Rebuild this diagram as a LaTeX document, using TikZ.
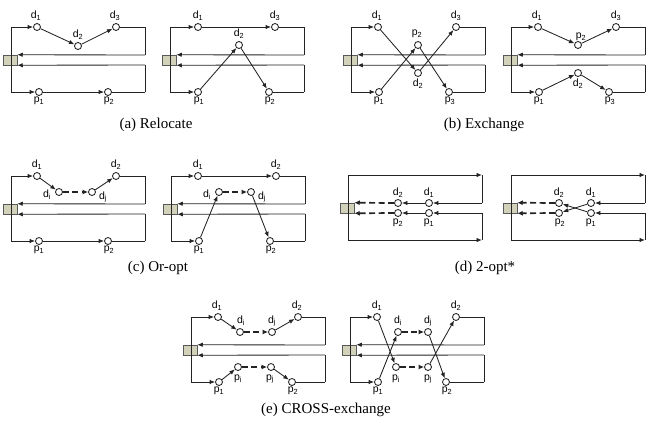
\documentclass[tikz,border=0pt]{standalone}
\usepackage{fontspec}
\setmainfont{Liberation Serif}
\newfontfamily\labfont{Liberation Sans}
\usetikzlibrary{arrows.meta}
\definecolor{depotc}{RGB}{210,210,186}
\definecolor{linec}{RGB}{35,35,35}
\newcommand\lsub[2]{#1\textsubscript{#2}}
\tikzset{
  rt/.style={draw=linec, line width=0.85pt},
  ar/.style={rt, -{Latex[length=5.5pt,width=4.4pt]}},
  dsh/.style={draw=linec, line width=1.7pt, dash pattern=on 6pt off 3.5pt, -{Latex[length=5.5pt,width=5pt]}},
  cust/.style={circle, draw=linec, fill=white, line width=0.85pt, minimum size=7pt, inner sep=0pt},
  depotbox/.style={draw=black!65, fill=depotc, line width=0.5pt, minimum width=14pt, minimum height=10pt, inner sep=0pt},
  lbl/.style={font=\labfont\fontsize{10.5}{11}\selectfont, inner sep=0pt},
  captxt/.style={font=\fontsize{15}{17}\selectfont, inner sep=0pt}
}
% frame: depot, corner coordinates, left vertical line
\newcommand\pframe[1]{%
  \node[depotbox] (#1dep) at (-1,33) {};
  \coordinate (#1TL) at (0,0);
  \coordinate (#1TR) at (134,0);
  \coordinate (#1BL) at (0,65);
  \coordinate (#1BR) at (134,65);
  \coordinate (#1RU) at (134,28);
  \coordinate (#1RW) at (134,38);
  \draw[rt] (#1TL) -- (#1BL);
}
\newcommand\preturn[1]{%
  \draw[rt] (#1TR) -- (#1RU);
  \draw[ar] (#1RU) -- (#1dep.north east);
  \draw[rt] (#1BR) -- (#1RW);
  \draw[ar] (#1RW) -- (#1dep.south east);
}
\begin{document}
\begin{tikzpicture}[x=1pt,y=-1pt]
\useasboundingbox (0,0) rectangle (649,426);

% ---------------- (a) left
\begin{scope}[shift={(11,27)}]
  \pframe{A}
  \node[cust] (Ad1) at (26,0) {};
  \node[cust] (Ad2) at (67,19) {};
  \node[cust] (Ad3) at (105,0) {};
  \node[cust] (Ap1) at (28,65) {};
  \node[cust] (Ap2) at (97,65) {};
  \draw[ar] (ATL) -- (Ad1);
  \draw[ar] (Ad1) -- (Ad2);
  \draw[ar] (Ad2) -- (Ad3);
  \draw[rt] (Ad3) -- (ATR);
  \draw[ar] (ABL) -- (Ap1);
  \draw[ar] (Ap1) -- (Ap2);
  \draw[rt] (Ap2) -- (ABR);
  \preturn{A}
  \node[lbl] (Ald1) at (25,-11) {\lsub{d}{1}};
  \node[lbl] (Ald2) at (67,8) {\lsub{d}{2}};
  \node[lbl] (Ald3) at (104,-11) {\lsub{d}{3}};
  \node[lbl] (Alp1) at (28,74) {\lsub{p}{1}};
  \node[lbl] (Alp2) at (98,74) {\lsub{p}{2}};
\end{scope}

% ---------------- (a) right
\begin{scope}[shift={(170,27)}]
  \pframe{B}
  \node[cust] (Bd1) at (28,0) {};
  \node[cust] (Bd3) at (105,0) {};
  \node[cust] (Bd2) at (69,18) {};
  \node[cust] (Bp1) at (28,65) {};
  \node[cust] (Bp2) at (99,65) {};
  \draw[ar] (BTL) -- (Bd1);
  \draw[ar] (Bd1) -- (Bd3);
  \draw[rt] (Bd3) -- (BTR);
  \draw[ar] (BBL) -- (Bp1);
  \draw[ar] (Bp1) -- (Bd2);
  \draw[ar] (Bd2) -- (Bp2);
  \draw[rt] (Bp2) -- (BBR);
  \preturn{B}
  \node[lbl] (Bld1) at (28,-11) {\lsub{d}{1}};
  \node[lbl] (Bld3) at (105,-11) {\lsub{d}{3}};
  \node[lbl] (Bld2) at (69,7) {\lsub{d}{2}};
  \node[lbl] (Blp1) at (29,74) {\lsub{p}{1}};
  \node[lbl] (Blp2) at (100,74) {\lsub{p}{2}};
\end{scope}

% ---------------- (b) left
\begin{scope}[shift={(351,27)}]
  \pframe{C}
  \node[cust] (Cd1) at (27,0) {};
  \node[cust] (Cd3) at (105,0) {};
  \node[cust] (Cp2) at (67,18) {};
  \node[cust] (Cd2) at (67,46) {};
  \node[cust] (Cp1) at (28,65) {};
  \node[cust] (Cp3) at (98,65) {};
  \draw[ar] (CTL) -- (Cd1);
  \draw[ar] (Cd1) -- (Cd2);
  \draw[ar] (Cd2) -- (Cd3);
  \draw[rt] (Cd3) -- (CTR);
  \draw[ar] (CBL) -- (Cp1);
  \draw[ar] (Cp1) -- (Cp2);
  \draw[ar] (Cp2) -- (Cp3);
  \draw[rt] (Cp3) -- (CBR);
  \preturn{C}
  \node[lbl] (Cld1) at (26,-11) {\lsub{d}{1}};
  \node[lbl] (Cld3) at (105,-11) {\lsub{d}{3}};
  \node[lbl] (Clp2) at (66,7) {\lsub{p}{2}};
  \node[lbl] (Cld2) at (67,57) {\lsub{d}{2}};
  \node[lbl] (Clp1) at (28,74) {\lsub{p}{1}};
  \node[lbl] (Clp3) at (99,74) {\lsub{p}{3}};
\end{scope}

% ---------------- (b) right
\begin{scope}[shift={(511,27)}]
  \pframe{D}
  \node[cust] (Dd1) at (27,0) {};
  \node[cust] (Dp2) at (67,18) {};
  \node[cust] (Dd3) at (105,0) {};
  \node[cust] (Dp1) at (28,65) {};
  \node[cust] (Dd2) at (67,46) {};
  \node[cust] (Dp3) at (98,65) {};
  \draw[ar] (DTL) -- (Dd1);
  \draw[ar] (Dd1) -- (Dp2);
  \draw[ar] (Dp2) -- (Dd3);
  \draw[rt] (Dd3) -- (DTR);
  \draw[ar] (DBL) -- (Dp1);
  \draw[ar] (Dp1) -- (Dd2);
  \draw[ar] (Dd2) -- (Dp3);
  \draw[rt] (Dp3) -- (DBR);
  \preturn{D}
  \node[lbl] (Dld1) at (26,-11) {\lsub{d}{1}};
  \node[lbl] (Dlp2) at (70,10) {\lsub{p}{2}};
  \node[lbl] (Dld3) at (105,-11) {\lsub{d}{3}};
  \node[lbl] (Dlp1) at (28,74) {\lsub{p}{1}};
  \node[lbl] (Dld2) at (67,57) {\lsub{d}{2}};
  \node[lbl] (Dlp3) at (99,74) {\lsub{p}{3}};
\end{scope}

% ---------------- (c) left
\begin{scope}[shift={(11,176)}]
  \pframe{E}
  \node[cust] (Ed1) at (26,0) {};
  \node[cust] (Edi) at (48,16) {};
  \node[cust] (Edj) at (81,16) {};
  \node[cust] (Ed2) at (105,0) {};
  \node[cust] (Ep1) at (28,65) {};
  \node[cust] (Ep2) at (97,65) {};
  \draw[ar] (ETL) -- (Ed1);
  \draw[ar] (Ed1) -- (Edi);
  \draw[dsh] (Edi) -- (Edj);
  \draw[ar] (Edj) -- (Ed2);
  \draw[rt] (Ed2) -- (ETR);
  \draw[ar] (EBL) -- (Ep1);
  \draw[ar] (Ep1) -- (Ep2);
  \draw[rt] (Ep2) -- (EBR);
  \preturn{E}
  \node[lbl] (Eld1) at (26,-11) {\lsub{d}{1}};
  \node[lbl] (Eldi) at (36,19) {\lsub{d}{i}};
  \node[lbl] (Eldj) at (92,21) {\lsub{d}{j}};
  \node[lbl] (Eld2) at (105,-11) {\lsub{d}{2}};
  \node[lbl] (Elp1) at (28,74) {\lsub{p}{1}};
  \node[lbl] (Elp2) at (98,74) {\lsub{p}{2}};
\end{scope}

% ---------------- (c) right
\begin{scope}[shift={(171,176)}]
  \pframe{F}
  \node[cust] (Fd1) at (27,0) {};
  \node[cust] (Fd2) at (105,0) {};
  \node[cust] (Fdi) at (48,16) {};
  \node[cust] (Fdj) at (80,16) {};
  \node[cust] (Fp1) at (28,65) {};
  \node[cust] (Fp2) at (99,65) {};
  \draw[ar] (FTL) -- (Fd1);
  \draw[ar] (Fd1) -- (Fd2);
  \draw[rt] (Fd2) -- (FTR);
  \draw[ar] (FBL) -- (Fp1);
  \draw[ar] (Fp1) -- (Fdi);
  \draw[dsh] (Fdi) -- (Fdj);
  \draw[ar] (Fdj) -- (Fp2);
  \draw[rt] (Fp2) -- (FBR);
  \preturn{F}
  \node[lbl] (Fld1) at (27,-11) {\lsub{d}{1}};
  \node[lbl] (Fld2) at (105,-11) {\lsub{d}{2}};
  \node[lbl] (Fldi) at (36,19) {\lsub{d}{i}};
  \node[lbl] (Fldj) at (91,21) {\lsub{d}{j}};
  \node[lbl] (Flp1) at (28,74) {\lsub{p}{1}};
  \node[lbl] (Flp2) at (100,74) {\lsub{p}{2}};
\end{scope}

% ---------------- (d) left
\begin{scope}[shift={(348,175)}]
  \pframe{G}
  \node[cust] (Gd2) at (50,28) {};
  \node[cust] (Gd1) at (81,28) {};
  \node[cust] (Gp2) at (50,38) {};
  \node[cust] (Gp1) at (81,38) {};
  \draw[ar] (GTL) -- (GTR);
  \draw[rt] (GTR) -- (GRU);
  \draw[ar] (GRU) -- (Gd1);
  \draw[ar] (Gd1) -- (Gd2);
  \draw[dsh] (Gd2) -- (Gdep.north east);
  \draw[ar] (GBL) -- (GBR);
  \draw[rt] (GBR) -- (GRW);
  \draw[ar] (GRW) -- (Gp1);
  \draw[ar] (Gp1) -- (Gp2);
  \draw[dsh] (Gp2) -- (Gdep.south east);
  \node[lbl] (Gld2) at (50,18) {\lsub{d}{2}};
  \node[lbl] (Gld1) at (81,18) {\lsub{d}{1}};
  \node[lbl] (Glp2) at (50,48) {\lsub{p}{2}};
  \node[lbl] (Glp1) at (81,48) {\lsub{p}{1}};
\end{scope}

% ---------------- (d) right
\begin{scope}[shift={(511,175)}]
  \pframe{H}
  \node[cust] (Hd2) at (48,28) {};
  \node[cust] (Hd1) at (80,28) {};
  \node[cust] (Hp2) at (48,38) {};
  \node[cust] (Hp1) at (80,38) {};
  \draw[ar] (HTL) -- (HTR);
  \draw[rt] (HTR) -- (HRU);
  \draw[ar] (HRU) -- (Hd1);
  \draw[ar] (Hd1) -- (Hp2);
  \draw[dsh] (Hd2) -- (Hdep.north east);
  \draw[ar] (HBL) -- (HBR);
  \draw[rt] (HBR) -- (HRW);
  \draw[ar] (HRW) -- (Hp1);
  \draw[ar] (Hp1) -- (Hd2);
  \draw[dsh] (Hp2) -- (Hdep.south east);
  \node[lbl] (Hld2) at (48,18) {\lsub{d}{2}};
  \node[lbl] (Hld1) at (80,18) {\lsub{d}{1}};
  \node[lbl] (Hlp2) at (49,48) {\lsub{p}{2}};
  \node[lbl] (Hlp1) at (80,48) {\lsub{p}{1}};
\end{scope}

% ---------------- (e) left
\begin{scope}[shift={(191,317)}]
  \pframe{I}
  \node[cust] (Id1) at (27,0) {};
  \node[cust] (Idi) at (49,15) {};
  \node[cust] (Idj) at (81,15) {};
  \node[cust] (Id2) at (107,0) {};
  \node[cust] (Ip1) at (28,65) {};
  \node[cust] (Ipi) at (47,50) {};
  \node[cust] (Ipj) at (80,50) {};
  \node[cust] (Ip2) at (101,65) {};
  \draw[ar] (ITL) -- (Id1);
  \draw[ar] (Id1) -- (Idi);
  \draw[dsh] (Idi) -- (Idj);
  \draw[ar] (Idj) -- (Id2);
  \draw[rt] (Id2) -- (ITR);
  \draw[ar] (IBL) -- (Ip1);
  \draw[ar] (Ip1) -- (Ipi);
  \draw[dsh] (Ipi) -- (Ipj);
  \draw[ar] (Ipj) -- (Ip2);
  \draw[rt] (Ip2) -- (IBR);
  \preturn{I}
  \node[lbl] (Ild1) at (26,-11) {\lsub{d}{1}};
  \node[lbl] (Ildi) at (50,4) {\lsub{d}{i}};
  \node[lbl] (Ildj) at (81,4) {\lsub{d}{j}};
  \node[lbl] (Ild2) at (106,-11) {\lsub{d}{2}};
  \node[lbl] (Ilp1) at (28,74) {\lsub{p}{1}};
  \node[lbl] (Ilpi) at (47,62) {\lsub{p}{i}};
  \node[lbl] (Ilpj) at (79,62) {\lsub{p}{j}};
  \node[lbl] (Ilp2) at (102,74) {\lsub{p}{2}};
\end{scope}

% ---------------- (e) right
\begin{scope}[shift={(350,317)}]
  \pframe{J}
  \node[cust] (Jd1) at (27,0) {};
  \node[cust] (Jdi) at (48,15) {};
  \node[cust] (Jdj) at (78,15) {};
  \node[cust] (Jd2) at (106,0) {};
  \node[cust] (Jp1) at (28,65) {};
  \node[cust] (Jpi) at (46,50) {};
  \node[cust] (Jpj) at (78,50) {};
  \node[cust] (Jp2) at (96,65) {};
  \draw[ar] (JTL) -- (Jd1);
  \draw[ar] (Jd1) -- (Jpi);
  \draw[dsh] (Jpi) -- (Jpj);
  \draw[ar] (Jpj) -- (Jd2);
  \draw[rt] (Jd2) -- (JTR);
  \draw[ar] (JBL) -- (Jp1);
  \draw[ar] (Jp1) -- (Jdi);
  \draw[dsh] (Jdi) -- (Jdj);
  \draw[ar] (Jdj) -- (Jp2);
  \draw[rt] (Jp2) -- (JBR);
  \preturn{J}
  \node[lbl] (Jld1) at (27,-11) {\lsub{d}{1}};
  \node[lbl] (Jldi) at (48,4) {\lsub{d}{i}};
  \node[lbl] (Jldj) at (78,4) {\lsub{d}{j}};
  \node[lbl] (Jld2) at (106,-11) {\lsub{d}{2}};
  \node[lbl] (Jlp1) at (28,74) {\lsub{p}{1}};
  \node[lbl] (Jlpi) at (46,62) {\lsub{p}{i}};
  \node[lbl] (Jlpj) at (78,62) {\lsub{p}{j}};
  \node[lbl] (Jlp2) at (97,74) {\lsub{p}{2}};
\end{scope}

% ---------------- captions
\node[captxt] (capa) at (156,125) {(a) Relocate};
\node[captxt] (capb) at (484,125) {(b) Exchange};
\node[captxt] (capc) at (158,268) {(c) Or-opt};
\node[captxt] (capd) at (485,268) {(d) 2-opt*};
\node[captxt] (cape) at (326,410) {(e) CROSS-exchange};
\end{tikzpicture}
\end{document}
